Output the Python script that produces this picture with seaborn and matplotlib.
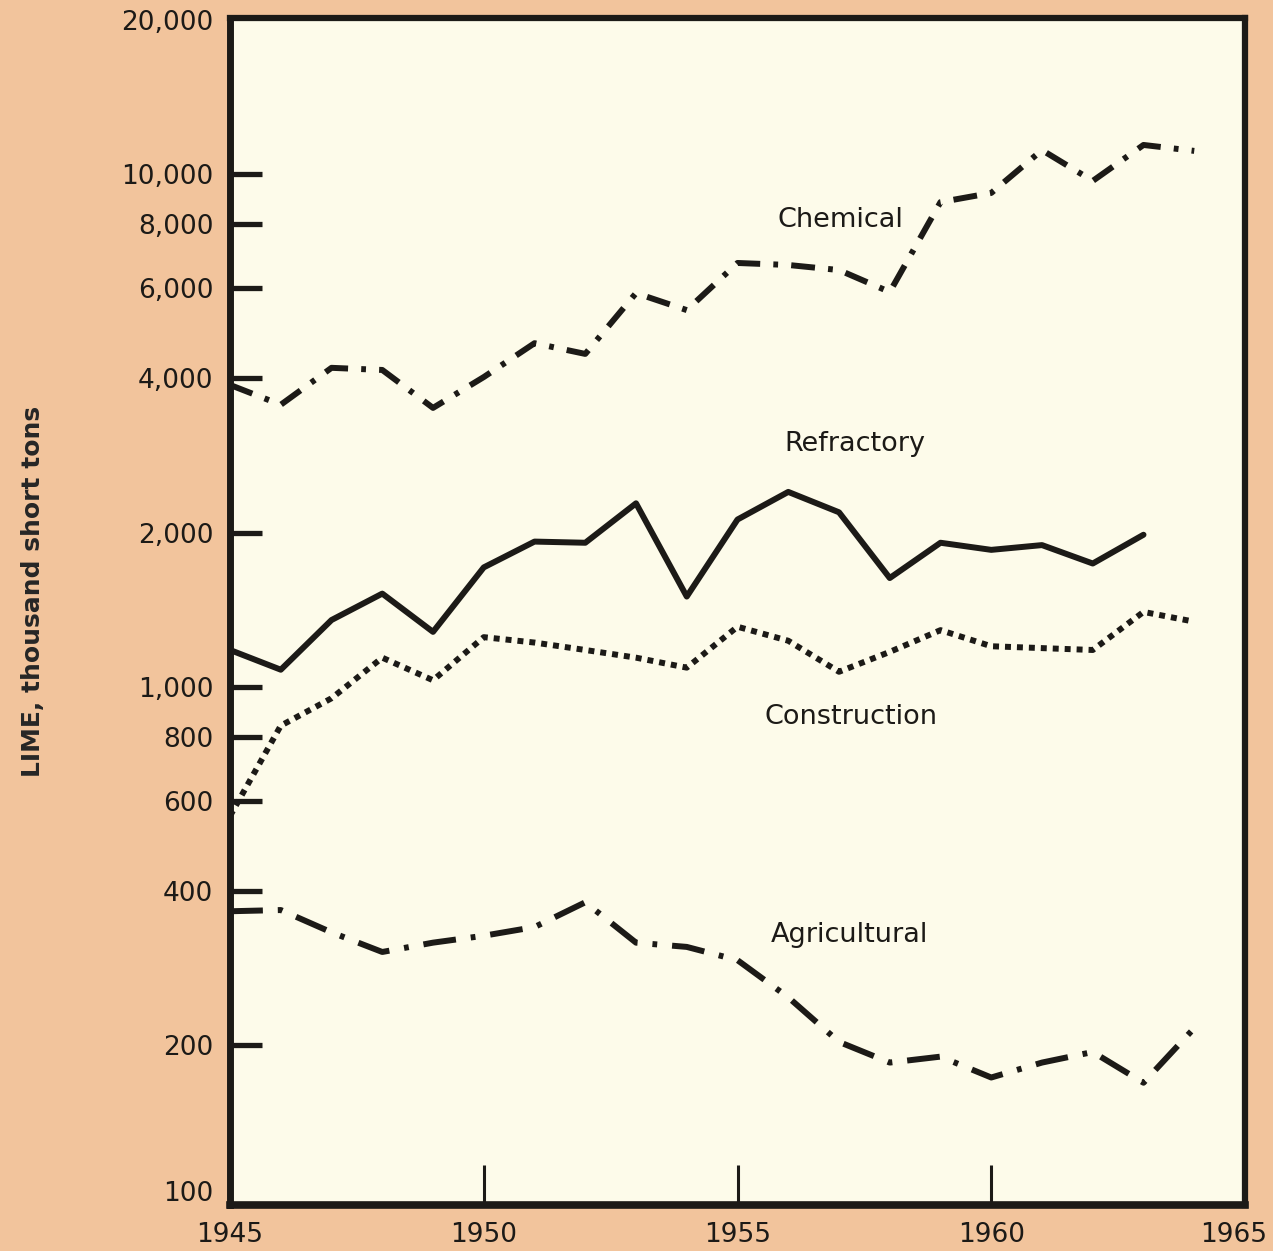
import matplotlib
matplotlib.use("Agg")
import matplotlib.pyplot as plt
import matplotlib.transforms as mtransforms
from matplotlib import font_manager as fm
import seaborn as sns
import pandas as pd
from matplotlib.ticker import NullLocator

# lime sold or used, by use, thousand short tons
years = list(range(1945, 1965))
chemical = [3880, 3550, 4190, 4150, 3500, 4020, 4680, 4460, 5860, 5430,
            6710, 6650, 6500, 5890, 8820, 9190, 11140, 9700, 11400, 11100]
refractory = [1180, 1080, 1350, 1520, 1280, 1710, 1920, 1910, 2280, 1500,
              2120, 2400, 2190, 1630, 1910, 1850, 1890, 1740, 1980]  # ends 1963
construction = [560, 840, 950, 1140, 1030, 1250, 1220, 1180, 1140, 1090,
                1310, 1230, 1070, 1170, 1290, 1200, 1190, 1180, 1400, 1340]
agricultural = [365, 367, 332, 304, 317, 327, 340, 380, 317, 311,
                293, 248, 203, 185, 190, 173, 185, 194, 169, 216]

uses = ["Chemical", "Refractory", "Construction", "Agricultural"]
y_ticks = [100, 200, 400, 600, 800, 1000, 2000, 4000, 6000, 8000, 10000, 20000]
y_tick_labels = ["100", "200", "400", "600", "800", "1,000", "2,000",
                 "4,000", "6,000", "8,000", "10,000", "20,000"]
x_ticks = [1945, 1950, 1955, 1960, 1965]

rows = []
for name, vals in zip(uses, [chemical, refractory, construction, agricultural]):
    for yr, v in zip(years, vals):
        rows.append((yr, name, v))
df = pd.DataFrame(rows, columns=["year", "use", "tons"])

PEACH = "#f2c49c"
CREAM = "#fdfbea"
INK = "#1c1a17"

sns.set_style("ticks")
plt.rcParams["font.family"] = ["DejaVu Sans"]
plt.rcParams["text.color"] = INK
plt.rcParams["xtick.color"] = INK
plt.rcParams["ytick.color"] = INK

# narrow face for the year labels if there is one
installed = {f.name for f in fm.fontManager.ttflist}
if "Liberation Sans Narrow" in installed:
    year_font = {"family": ["Liberation Sans Narrow", "DejaVu Sans"], "size": 29}
else:
    year_font = {"family": ["DejaVu Sans"], "size": 19}

fig = plt.figure(figsize=(12.73, 12.51), dpi=100, facecolor=PEACH)
ax = fig.add_axes([0.1807, 0.0368, 0.7973, 0.9488])
ax.set_facecolor(CREAM)

dash_styles = {
    "Chemical": (4, 2.2, 0.8, 2.2),
    "Refractory": "",
    "Construction": (1, 1),
    "Agricultural": (5.5, 2.5, 0.8, 2.5),
}

sns.lineplot(data=df, x="year", y="tons", style="use", style_order=uses,
             dashes=dash_styles, color=INK, linewidth=4.3, legend=False, ax=ax)

ax.set_yscale("log")
ax.set_xlim(1945, 1965)
ax.set_ylim(97.6, 20160)

ax.set_yticks(y_ticks, labels=y_tick_labels)
ax.yaxis.set_minor_locator(NullLocator())
ax.set_xticks(x_ticks, labels=[str(x) for x in x_ticks])

ax.tick_params(axis="y", direction="in", length=23, width=3.8, pad=12, labelsize=19)
ax.tick_params(axis="x", direction="in", length=29, width=2.2, pad=12)
for lab in ax.get_xticklabels():
    lab.set_fontfamily(year_font["family"])
    lab.set_fontsize(year_font["size"])

yt = ax.yaxis.get_major_ticks()
yt[0].tick1line.set_visible(False)
yt[-1].tick1line.set_visible(False)
# the "100" sits a little above the corner in the original
yt[0].label1.set_transform(yt[0].label1.get_transform() +
                           mtransforms.ScaledTranslation(0, 0.09, fig.dpi_scale_trans))
xt = ax.xaxis.get_major_ticks()
xt[0].tick1line.set_visible(False)
xt[-1].tick1line.set_visible(False)
# keep the last year inside the page
xt[-1].label1.set_transform(xt[-1].label1.get_transform() +
                            mtransforms.ScaledTranslation(-0.11, 0, fig.dpi_scale_trans))

for side, w in [("left", 5.0), ("bottom", 5.5), ("right", 4.5), ("top", 4.5)]:
    ax.spines[side].set_visible(True)
    ax.spines[side].set_linewidth(w)
    ax.spines[side].set_color(INK)

ax.set_xlabel("")
ax.set_ylabel("LIME, thousand short tons", fontsize=18, fontweight="bold", va="center")
ax.yaxis.set_label_coords(-0.194, 0.517)

# line labels
for txt, x, y in [("Chemical", 1957.02, 8140), ("Refractory", 1957.32, 2976),
                  ("Construction", 1957.24, 873), ("Agricultural", 1957.20, 328)]:
    ax.text(x, y, txt, fontsize=19.5, ha="center", va="center")

fig.savefig("out.png", dpi=100, facecolor=PEACH)
